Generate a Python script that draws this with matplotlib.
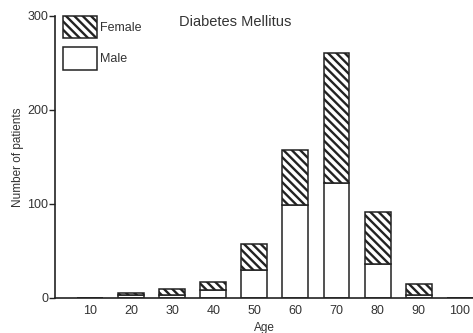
import matplotlib
matplotlib.use("Agg")
import matplotlib.pyplot as plt
from matplotlib.patches import Patch

# ===== data =====
ages   = [10, 20, 30, 40, 50, 60, 70, 80, 90, 100]
male   = [0, 3, 3, 8, 30, 99, 122, 36, 3, 0]
female = [0, 2, 7, 9, 27, 58, 139, 56, 12, 0]

plt.rcParams["font.family"] = ["Liberation Sans", "DejaVu Sans"]
plt.rcParams["hatch.linewidth"] = 1.7
HATCH = "\\" * 4

fig = plt.figure(figsize=(4.73, 3.33), dpi=100)
ax = fig.add_axes([55 / 473, 35 / 333, 1 - 55 / 473, 282 / 333])

w = 6.3
ax.bar(ages, male, width=w, color="white", edgecolor="#222222", linewidth=1.1)
ax.bar(ages, female, width=w, bottom=male, color="white", edgecolor="#222222",
       linewidth=1.1, hatch=HATCH)

ax.set_xlim(1.5, 103.2)
ax.set_ylim(0, 300)
ax.set_xticks(ages)
ax.set_yticks([0, 100, 200, 300])
ax.tick_params(axis="x", length=0, labelsize=9, colors="#333333", pad=5)
ax.tick_params(axis="y", length=4, width=1, labelsize=9, colors="#333333", pad=1)
ax.tick_params(axis="y", color="#222222")
for s in ("top", "right"):
    ax.spines[s].set_visible(False)
for s in ("left", "bottom"):
    ax.spines[s].set_linewidth(1.2)
    ax.spines[s].set_color("#222222")

ax.set_ylabel("Number of patients", fontsize=8.5, color="#333333", labelpad=2)
ax.set_xlabel("Age", fontsize=8.5, color="#333333", labelpad=4)
fig.text(235 / 473, 1 - 22 / 333, "Diabetes Mellitus", fontsize=10.5,
         color="#333333", ha="center", va="center")

handles = [
    Patch(facecolor="white", edgecolor="#222222", hatch=HATCH, linewidth=1.1, label="Female"),
    Patch(facecolor="white", edgecolor="#222222", linewidth=1.1, label="Male"),
]
ax.legend(handles=handles, loc="upper left", bbox_to_anchor=(0.013, 1.01), frameon=False,
          fontsize=9, handlelength=2.7, handleheight=2.4, handletextpad=0.3,
          labelspacing=0.7, borderpad=0.2, borderaxespad=0, labelcolor="#333333")

fig.savefig("out.png", dpi=100)
